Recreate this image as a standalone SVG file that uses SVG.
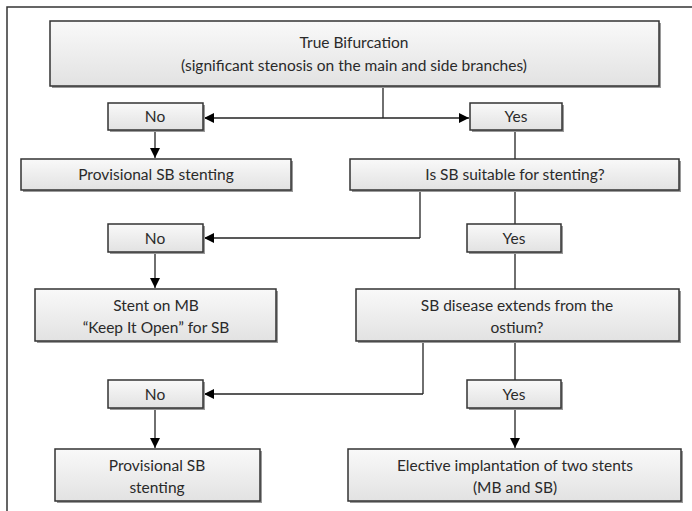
<svg xmlns="http://www.w3.org/2000/svg" width="692" height="511" viewBox="0 0 692 511">
<defs>
<linearGradient id="g" x1="0" y1="0" x2="0" y2="1">
<stop offset="0" stop-color="#f9f9f9"/>
<stop offset="1" stop-color="#e2e2e2"/>
</linearGradient>
<marker id="ah" viewBox="0 0 10 10" refX="10" refY="5" markerWidth="10" markerHeight="10" markerUnits="userSpaceOnUse" orient="auto">
<path d="M0,0 L10,5 L0,10 Z" fill="#000"/>
</marker>
<style>
.box{fill:url(#g);stroke:#333;stroke-width:1.5}
.sh{fill:#9a9a9a}
.t{font-family:Lato,"Open Sans",sans-serif;font-size:15.5px;fill:#2a2a2a;text-anchor:middle;dominant-baseline:central}
.c{fill:none;stroke:#222;stroke-width:1.3}
.a{marker-end:url(#ah)}
.frame{fill:none;stroke:#333;stroke-width:1.5}
</style>
</defs>
<rect width="692" height="511" fill="#fff"/>
<path class="frame" d="M7,511 V7 H692"/>

<g id="connectors">
<path class="c" d="M383,86 V118"/>
<path class="c a" d="M383,118 H204"/>
<path class="c a" d="M383,118 H469"/>
<path class="c a" d="M155,130 V158"/>
<path class="c" d="M515,130 V159"/>
<path class="c" d="M420,190 V238"/>
<path class="c a" d="M420,238 H204"/>
<path class="c" d="M515,190 V224"/>
<path class="c a" d="M155,252 V288"/>
<path class="c" d="M515,252 V289"/>
<path class="c" d="M423,341 V394"/>
<path class="c a" d="M423,394 H204"/>
<path class="c" d="M515,341 V380"/>
<path class="c a" d="M155,408 V448"/>
<path class="c a" d="M515,408 V448"/>
</g>

<g id="top">
<rect class="sh" x="52" y="23" width="609" height="65"/>
<rect class="box" x="50" y="21" width="609" height="65"/>
<text class="t" x="354" y="42">True Bifurcation</text>
<text class="t" x="354" y="65">(significant stenosis on the main and side branches)</text>
</g>

<g id="no1">
<rect class="sh" x="110" y="105" width="95" height="27"/>
<rect class="box" x="108" y="103" width="95" height="27"/>
<text class="t" x="155" y="116">No</text>
</g>
<g id="yes1">
<rect class="sh" x="472" y="105" width="92" height="27"/>
<rect class="box" x="470" y="103" width="92" height="27"/>
<text class="t" x="516" y="116">Yes</text>
</g>

<g id="prov1">
<rect class="sh" x="23" y="161" width="270" height="31"/>
<rect class="box" x="21" y="159" width="270" height="31"/>
<text class="t" x="156" y="174">Provisional SB stenting</text>
</g>
<g id="suitable">
<rect class="sh" x="352" y="161" width="329" height="31"/>
<rect class="box" x="350" y="159" width="329" height="31"/>
<text class="t" x="515" y="174">Is SB suitable for stenting?</text>
</g>

<g id="no2">
<rect class="sh" x="110" y="226" width="95" height="28"/>
<rect class="box" x="108" y="224" width="95" height="28"/>
<text class="t" x="155" y="238">No</text>
</g>
<g id="yes2">
<rect class="sh" x="469" y="226" width="94" height="28"/>
<rect class="box" x="467" y="224" width="94" height="28"/>
<text class="t" x="514" y="238">Yes</text>
</g>

<g id="stentmb">
<rect class="sh" x="37" y="291" width="241" height="52"/>
<rect class="box" x="35" y="289" width="241" height="52"/>
<text class="t" x="156" y="305">Stent on MB</text>
<text class="t" x="156" y="327">“Keep It Open” for SB</text>
</g>
<g id="disease">
<rect class="sh" x="358" y="291" width="323" height="52"/>
<rect class="box" x="356" y="289" width="323" height="52"/>
<text class="t" x="517" y="305">SB disease extends from the</text>
<text class="t" x="517" y="327">ostium?</text>
</g>

<g id="no3">
<rect class="sh" x="110" y="382" width="95" height="28"/>
<rect class="box" x="108" y="380" width="95" height="28"/>
<text class="t" x="155" y="394">No</text>
</g>
<g id="yes3">
<rect class="sh" x="469" y="382" width="94" height="28"/>
<rect class="box" x="467" y="380" width="94" height="28"/>
<text class="t" x="514" y="394">Yes</text>
</g>

<g id="prov2">
<rect class="sh" x="57" y="451" width="205" height="52"/>
<rect class="box" x="55" y="449" width="205" height="52"/>
<text class="t" x="157" y="465">Provisional SB</text>
<text class="t" x="157" y="487">stenting</text>
</g>
<g id="elective">
<rect class="sh" x="350" y="451" width="333" height="52"/>
<rect class="box" x="348" y="449" width="333" height="52"/>
<text class="t" x="515" y="465">Elective implantation of two stents</text>
<text class="t" x="515" y="487">(MB and SB)</text>
</g>
</svg>
